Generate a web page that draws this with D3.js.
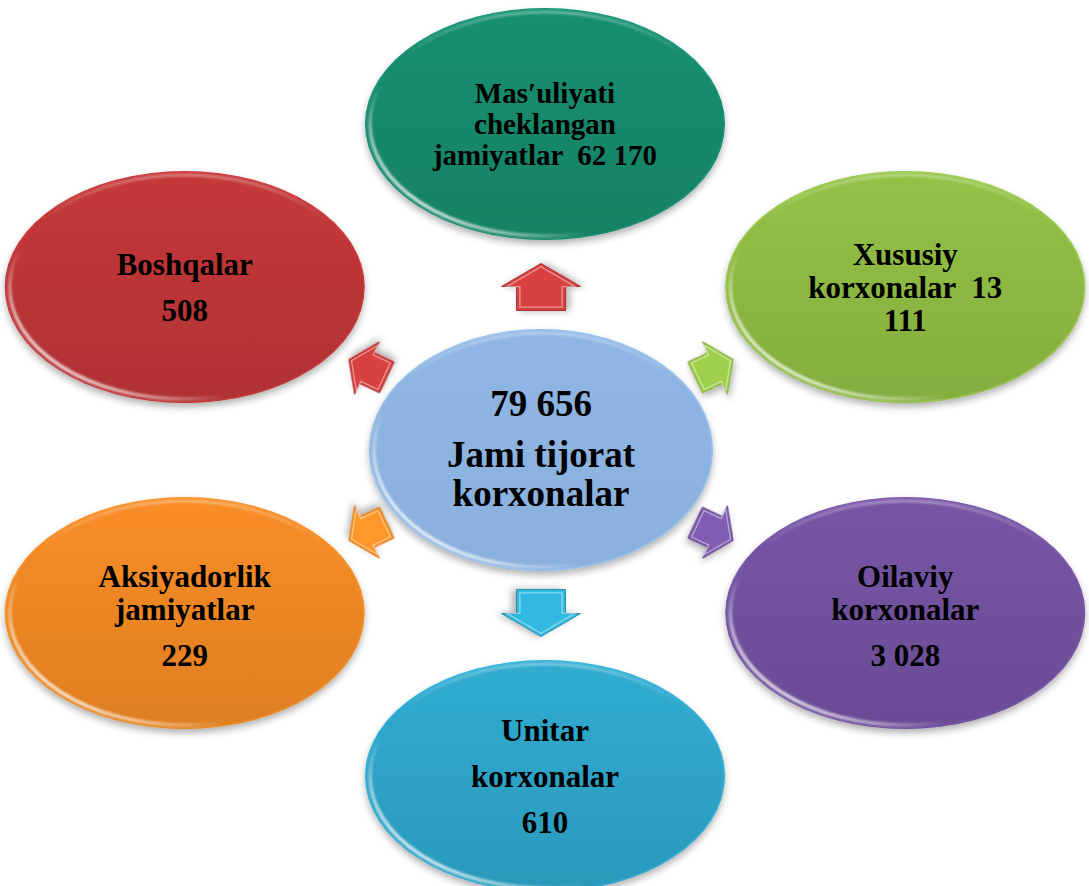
<!DOCTYPE html>
<html>
<head>
<meta charset="utf-8">
<script src="https://cdn.jsdelivr.net/npm/d3@7"></script>
<style>
body { margin: 0; background: #fff; }
svg { display: block; }
text { font-family: "Liberation Serif", "Times New Roman", serif; font-weight: bold; fill: #000; }
</style>
</head>
<body>
<script>
// the data
var categories = ["Mas′uliyati cheklangan jamiyatlar", "Xususiy korxonalar", "Oilaviy korxonalar",
    "Unitar korxonalar", "Aksiyadorlik jamiyatlar", "Boshqalar"];
var values = [62170, 13111, 3028, 610, 229, 508];
var totalLabel = ["Jami tijorat", "korxonalar"];

// how every label breaks: paragraphs of lines. {v} is the value, {hi}/{lo} the value split at the gap
var labelLines = [
    [["Mas′uliyati", "cheklangan", "jamiyatlar  {v}"]],
    [["Xususiy", "korxonalar  {hi}", "{lo}"]],
    [["Oilaviy", "korxonalar"], ["{v}"]],
    [["Unitar"], ["korxonalar"], ["{v}"]],
    [["Aksiyadorlik", "jamiyatlar"], ["{v}"]],
    [["Boshqalar"], ["{v}"]]
];

// styles
var nodeColors = ["#178b6c", "#8fbb44", "#7352a0", "#2ea6ca", "#f08825", "#be3637"];
var arrowColors = ["#c3393a", "#8fbb44", "#7352a0", "#2ea6ca", "#f08825", "#c3393a"];
var fontSizes = [29, 31, 31, 31, 31, 31];
var centerColor = "#8db4e2";

var width = 1089, height = 886;
var cx = 541, cy = 450;

var fmt = d3.formatLocale({ decimal: ",", thousands: " ", grouping: [3], currency: ["", ""] }).format(",d");
var total = d3.sum(values);

// index -> angle round the centre, first node at the top, clockwise
var angle = d3.scaleLinear().domain([0, categories.length]).range([-Math.PI / 2, Math.PI * 1.5]);

var svg = d3.select("body").append("svg")
    .attr("width", width)
    .attr("height", height);

var defs = svg.append("defs");

var shadow = defs.append("filter").attr("id", "shadow")
    .attr("x", "-20%").attr("y", "-20%").attr("width", "140%").attr("height", "150%");
shadow.append("feDropShadow")
    .attr("dx", 0).attr("dy", 4).attr("stdDeviation", 3.5)
    .attr("flood-color", "#000").attr("flood-opacity", 0.3);

var soft = defs.append("filter").attr("id", "soft")
    .attr("x", "-10%").attr("y", "-10%").attr("width", "120%").attr("height", "120%");
soft.append("feGaussianBlur").attr("stdDeviation", 0.9);

// white rim light, strongest on the lower left
var rim = defs.append("linearGradient").attr("id", "rim")
    .attr("x1", 0).attr("y1", 0.8).attr("x2", 0.5).attr("y2", 0.35);
rim.append("stop").attr("offset", 0).attr("stop-color", "#fff").attr("stop-opacity", 0.95);
rim.append("stop").attr("offset", 0.25).attr("stop-color", "#fff").attr("stop-opacity", 0.5);
rim.append("stop").attr("offset", 0.5).attr("stop-color", "#fff").attr("stop-opacity", 0);

var topRim = defs.append("linearGradient").attr("id", "topRim")
    .attr("x1", 0).attr("y1", 0).attr("x2", 0).attr("y2", 1);
topRim.append("stop").attr("offset", 0).attr("stop-color", "#fff").attr("stop-opacity", 0.35);
topRim.append("stop").attr("offset", 0.2).attr("stop-color", "#fff").attr("stop-opacity", 0);

function fillGradient(id, color, up, down) {
    var c = d3.color(color);
    var g = defs.append("linearGradient").attr("id", id)
        .attr("x1", 0).attr("y1", 0).attr("x2", 0).attr("y2", 1);
    g.append("stop").attr("offset", 0).attr("stop-color", c.brighter(up).formatHex());
    g.append("stop").attr("offset", 1).attr("stop-color", c.darker(down).formatHex());
    return "url(#" + id + ")";
}

function drawEllipse(g, x, y, rx, ry, color, id, up, down) {
    g.append("ellipse")
        .attr("cx", x).attr("cy", y).attr("rx", rx).attr("ry", ry)
        .attr("fill", fillGradient(id, color, up, down))
        .attr("filter", "url(#shadow)");
    g.append("ellipse")
        .attr("cx", x).attr("cy", y).attr("rx", rx - 1).attr("ry", ry - 1)
        .attr("fill", "none")
        .attr("stroke", d3.color(color).brighter(0.6).formatHex())
        .attr("stroke-opacity", 0.35)
        .attr("stroke-width", 1.2);
    g.append("ellipse")
        .attr("cx", x).attr("cy", y).attr("rx", rx - 5).attr("ry", ry - 4)
        .attr("fill", "none")
        .attr("stroke", "url(#rim)")
        .attr("stroke-width", 3.5)
        .attr("filter", "url(#soft)");
    g.append("ellipse")
        .attr("cx", x).attr("cy", y).attr("rx", rx - 4).attr("ry", ry - 4)
        .attr("fill", "none")
        .attr("stroke", "url(#topRim)")
        .attr("stroke-width", 3)
        .attr("filter", "url(#soft)");
}

function drawLines(g, x, y, paragraphs, size, lineH, paraH, shift) {
    var rows = [], pos = 0;
    paragraphs.forEach(function (p) {
        p.forEach(function (line, li) {
            if (rows.length) pos += (li === 0 ? paraH : lineH);
            rows.push({ text: line, y: pos });
        });
    });
    var mid = d3.mean(rows, function (r) { return r.y; });
    g.selectAll(null)
        .data(rows).enter().append("text")
        .attr("x", x)
        .attr("y", function (r) { return y + r.y - mid + shift; })
        .attr("text-anchor", "middle")
        .attr("font-size", size)
        .attr("xml:space", "preserve")
        .style("white-space", "pre")
        .text(function (r) { return r.text; });
}

// outer nodes
var ringX = 416, ringY = 326;
var nodeRx = 180, nodeRy = 116;

var nodes = categories.map(function (name, i) {
    var a = angle(i);
    var parts = fmt(values[i]).split(" ");
    var paragraphs = labelLines[i].map(function (p) {
        return p.map(function (line) {
            return line.replace("{v}", fmt(values[i]))
                .replace("{hi}", parts[0])
                .replace("{lo}", parts.slice(1).join(" "));
        });
    });
    return {
        name: name,
        x: cx + 4 + ringX * Math.cos(a),
        y: cy + ringY * Math.sin(a),
        a: a,
        paragraphs: paragraphs,
        color: nodeColors[i],
        arrow: arrowColors[i],
        size: fontSizes[i]
    };
});

var nodeG = svg.append("g").attr("class", "nodes");
nodes.forEach(function (d, i) {
    var g = nodeG.append("g");
    drawEllipse(g, d.x, d.y, nodeRx, nodeRy, d.color, "node" + i, 0.1, 0.22);
    drawLines(g, d.x, d.y, d.paragraphs, d.size, d.size * 1.07, 46, d.size * 0.36);
});

// centre node
var centerG = svg.append("g").attr("class", "center");
drawEllipse(centerG, cx, cy, 172, 121, centerColor, "centerFill", 0.03, 0.06);
drawLines(centerG, cx, cy, [[fmt(total)], totalLabel], 37, 39, 51, 13);

// arrows from the centre out to each node
var arrowRingX = 200, arrowRingY = 163;

function arrowShape(L, W, S, H) {
    return d3.line()([[-L / 2, -S / 2], [L / 2 - H, -S / 2], [L / 2 - H, -W / 2], [L / 2, 0],
        [L / 2 - H, W / 2], [L / 2 - H, S / 2], [-L / 2, S / 2]]) + "Z";
}

var arrowG = svg.append("g").attr("class", "arrows");
nodes.forEach(function (d, i) {
    var ax = cx + arrowRingX * Math.cos(d.a);
    var ay = cy + arrowRingY * Math.sin(d.a);
    var rot = Math.atan2(ay - cy, ax - cx) * 180 / Math.PI;
    var vertical = Math.abs(Math.sin(d.a)) > 0.9;
    var shape = vertical ? arrowShape(47, 79, 49, 23) : arrowShape(42, 58, 34, 20);
    var c = d3.color(d.arrow);
    var grad = defs.append("linearGradient").attr("id", "arrow" + i)
        .attr("gradientUnits", "userSpaceOnUse")
        .attr("x1", ax - 30).attr("y1", ay - 30).attr("x2", ax + 30).attr("y2", ay + 30);
    grad.append("stop").attr("offset", 0).attr("stop-color", c.brighter(0.3).formatHex());
    grad.append("stop").attr("offset", 0.5).attr("stop-color", c.formatHex());
    grad.append("stop").attr("offset", 1).attr("stop-color", c.darker(0.35).formatHex());

    var t = "translate(" + ax + "," + ay + ") rotate(" + rot + ")";
    arrowG.append("path")
        .attr("d", shape)
        .attr("transform", t)
        .attr("fill", "url(#arrow" + i + ")")
        .attr("stroke", c.darker(0.4).formatHex())
        .attr("stroke-width", 1)
        .attr("filter", "url(#shadow)");
    // bevel light along the inner edge
    arrowG.append("path")
        .attr("d", shape)
        .attr("transform", t + " scale(0.86)")
        .attr("fill", "none")
        .attr("stroke", "#fff")
        .attr("stroke-opacity", 0.45)
        .attr("stroke-width", 1.5);
});
</script>
</body>
</html>
